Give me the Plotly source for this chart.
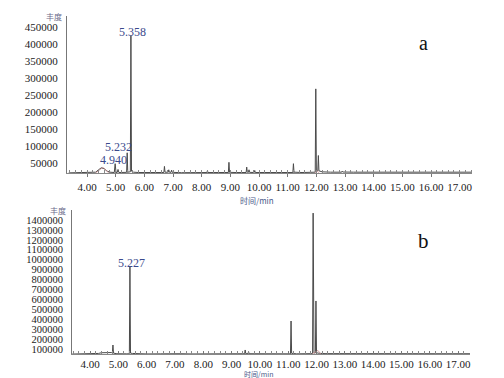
import plotly.graph_objects as go

# ---- chart a data ----
a_time = [3.36, 3.6, 3.85, 4.1, 4.3, 4.4, 4.5, 4.6, 4.7, 4.8, 4.95, 4.98, 5.01, 5.05, 5.08, 5.11,
          5.3, 5.38, 5.40, 5.42, 5.51, 5.53, 5.55, 5.62, 5.8, 6.1, 6.4, 6.68, 6.70, 6.72,
          6.83, 6.85, 6.87, 6.93, 6.95, 6.97, 7.3, 7.6, 7.9, 8.18, 8.2, 8.22, 8.6, 8.93,
          8.95, 8.97, 9.2, 9.55, 9.57, 9.59, 9.63, 9.65, 9.67, 9.83, 9.85, 9.87, 10.2, 10.6,
          11.0, 11.18, 11.20, 11.22, 11.5, 11.8, 11.96, 11.98, 12.00, 12.05, 12.07, 12.09,
          12.2, 12.5, 12.88, 12.9, 12.92, 13.3, 14.0, 15.0, 16.0, 17.0, 17.42]
a_abund = [21000, 22000, 21000, 22500, 23000, 30000, 36000, 33000, 26000, 23000, 22000, 48000,
           22500, 22000, 31000, 22000, 23000, 22500, 80000, 23000, 24000, 425000, 26000, 23000,
           22000, 21500, 22000, 22000, 40000, 23000, 22500, 30000, 23000, 22500, 29000, 22500,
           21500, 22000, 21500, 22000, 27000, 22000, 22000, 22000, 52000, 22500, 22000, 22000,
           38000, 22500, 22500, 30000, 22500, 22000, 28000, 22000, 22000, 21500, 22000, 22000,
           48000, 23000, 22000, 22500, 23000, 268000, 28000, 27000, 72000, 27000, 24000, 23000,
           23000, 26000, 23500, 23000, 23000, 23000, 23000, 23000, 23000]
a_red_time = [4.3, 4.45, 4.55, 4.65, 4.75, None, 11.95, 12.02, 12.1]
a_red_abund = [21000, 32000, 37000, 30000, 21000, None, 21000, 27000, 21000]
a_labels = ["5.358", "5.232", "4.940"]
a_label_time = [5.57, 5.08, 4.91]
a_label_abund = [435000, 97000, 59000]
a_ticks = [50000, 100000, 150000, 200000, 250000, 300000, 350000, 400000, 450000]

# ---- chart b data ----
b_time = [3.37, 3.7, 4.0, 4.3, 4.4, 4.6, 4.75, 4.79, 4.81, 4.83, 4.95, 5.3, 5.39, 5.41, 5.43,
          5.5, 5.7, 6.0, 6.5, 7.0, 7.1, 7.2, 7.6, 8.2, 8.8, 9.3, 9.46, 9.48, 9.5, 9.58, 9.6,
          9.62, 10.0, 10.5, 11.0, 11.08, 11.10, 11.12, 11.3, 11.7, 11.86, 11.88, 11.91, 11.96,
          11.98, 12.0, 12.1, 12.3, 12.8, 13.5, 14.5, 15.5, 16.5, 17.42]
b_abund = [49000, 50000, 51000, 55000, 62000, 66000, 64000, 60000, 140000, 58000, 52000, 51000,
           51000, 936000, 58000, 55000, 51000, 50000, 51000, 53000, 58000, 52000, 50000, 50000,
           51000, 52000, 52000, 90000, 53000, 52000, 72000, 52000, 51000, 50000, 51000, 51000,
           382000, 56000, 51000, 52000, 53000, 1470000, 60000, 60000, 584000, 62000, 56000,
           53000, 52000, 52000, 52000, 52000, 52000, 52000]
b_red_time = [11.85, 11.95, 12.05, 12.15]
b_red_abund = [50000, 68000, 85000, 50000]
b_labels = ["5.227"]
b_label_time = [5.45]
b_label_abund = [967000]
b_ticks = [100000, 200000, 300000, 400000, 500000, 600000, 700000, 800000, 900000,
           1000000, 1100000, 1200000, 1300000, 1400000]

x_ticks = [4, 5, 6, 7, 8, 9, 10, 11, 12, 13, 14, 15, 16, 17]
x_ticktext = ["%.2f" % v for v in x_ticks]

# page body has an 8px margin: figure is drawn at offset (8, 8)
OFF = 8
W, H = 504 - OFF, 378 - OFF
SERIF = "Liberation Serif, Times New Roman, serif"
LINE = "#4a4a4a"
LBL = "#3b4a8c"

fig = go.Figure()
fig.add_trace(go.Scatter(x=a_time, y=a_abund, mode="lines", line=dict(color=LINE, width=1),
                         xaxis="x", yaxis="y", hoverinfo="skip"))
fig.add_trace(go.Scatter(x=a_red_time, y=a_red_abund, mode="lines", line=dict(color="#c98a8a", width=0.8),
                         xaxis="x", yaxis="y", hoverinfo="skip"))
fig.add_trace(go.Scatter(x=b_time, y=b_abund, mode="lines", line=dict(color=LINE, width=1),
                         xaxis="x2", yaxis="y2", hoverinfo="skip"))
fig.add_trace(go.Scatter(x=b_red_time, y=b_red_abund, mode="lines", line=dict(color="#c98a8a", width=0.8),
                         xaxis="x2", yaxis="y2", hoverinfo="skip"))

def px_x(p):
    return (p - OFF) / W

def px_y(p):
    return 1 - (p - OFF) / H

def xaxis_style(major_ticks, standoff):
    return dict(showgrid=False, zeroline=False, showline=True, linecolor="#888", linewidth=1,
                tickvals=x_ticks, ticktext=x_ticktext, ticks=major_ticks, ticklen=3,
                tickcolor="#777", ticklabelstandoff=standoff,
                minor=dict(dtick=0.2, ticks="inside", ticklen=3, tickcolor="#888", showgrid=False),
                tickfont=dict(family=SERIF, size=11, color="#222"))

def yaxis_style(size):
    return dict(showgrid=False, zeroline=False, showline=True, linecolor="#777", linewidth=1,
                ticks="", tickfont=dict(family=SERIF, size=size, color="#222"), ticklabelstandoff=6)

fig.update_layout(
    width=W, height=H, margin=dict(l=0, r=0, t=0, b=0),
    paper_bgcolor="white", plot_bgcolor="white", showlegend=False,
    xaxis=dict(domain=[px_x(67), px_x(472)], range=[3.3, 17.43], anchor="y",
               **xaxis_style("outside", 1)),
    yaxis=dict(domain=[px_y(173), px_y(16)], range=[20588, 482353], anchor="x",
               tickvals=a_ticks, ticktext=[str(v) for v in a_ticks], **yaxis_style(11)),
    xaxis2=dict(domain=[px_x(72), px_x(470)], range=[3.364, 17.42], anchor="y2",
                **xaxis_style("inside", 0)),
    yaxis2=dict(domain=[px_y(354), px_y(210)], range=[49400, 1501000], anchor="x2",
                tickvals=b_ticks, ticktext=[str(v) for v in b_ticks], **yaxis_style(10.5)),
)

C = dict(xanchor="center", yanchor="middle", showarrow=False)
anns = []
for t, x, y in zip(a_labels, a_label_time, a_label_abund):
    anns.append(dict(text=t, x=x, y=y, xref="x", yref="y",
                     font=dict(family=SERIF, size=12, color=LBL), **C))
for t, x, y in zip(b_labels, b_label_time, b_label_abund):
    anns.append(dict(text=t, x=x, y=y, xref="x2", yref="y2",
                     font=dict(family=SERIF, size=12, color=LBL), **C))
anns += [
    dict(text="丰度", x=px_x(54), y=px_y(16), xref="paper", yref="paper",
         font=dict(family="Noto Sans CJK SC", size=8, color="#6a6a8a"), **C),
    dict(text="丰度", x=px_x(58), y=px_y(210), xref="paper", yref="paper",
         font=dict(family="Noto Sans CJK SC", size=8, color="#6a6a8a"), **C),
    dict(text="时间/min", x=px_x(257), y=px_y(200), xref="paper", yref="paper",
         font=dict(family="Noto Sans CJK SC", size=8, color="#4a5a8a"), **C),
    dict(text="时间/min", x=px_x(258), y=px_y(373.5), xref="paper", yref="paper",
         font=dict(family="Noto Sans CJK SC", size=7, color="#4a5a8a"), **C),
    dict(text="a", x=px_x(423), y=px_y(43), xref="paper", yref="paper",
         font=dict(family=SERIF, size=20, color="#111"), **C),
    dict(text="b", x=px_x(423), y=px_y(241), xref="paper", yref="paper",
         font=dict(family=SERIF, size=21, color="#111"), **C),
]
fig.update_layout(annotations=anns)

fig.write_html("out.html")
